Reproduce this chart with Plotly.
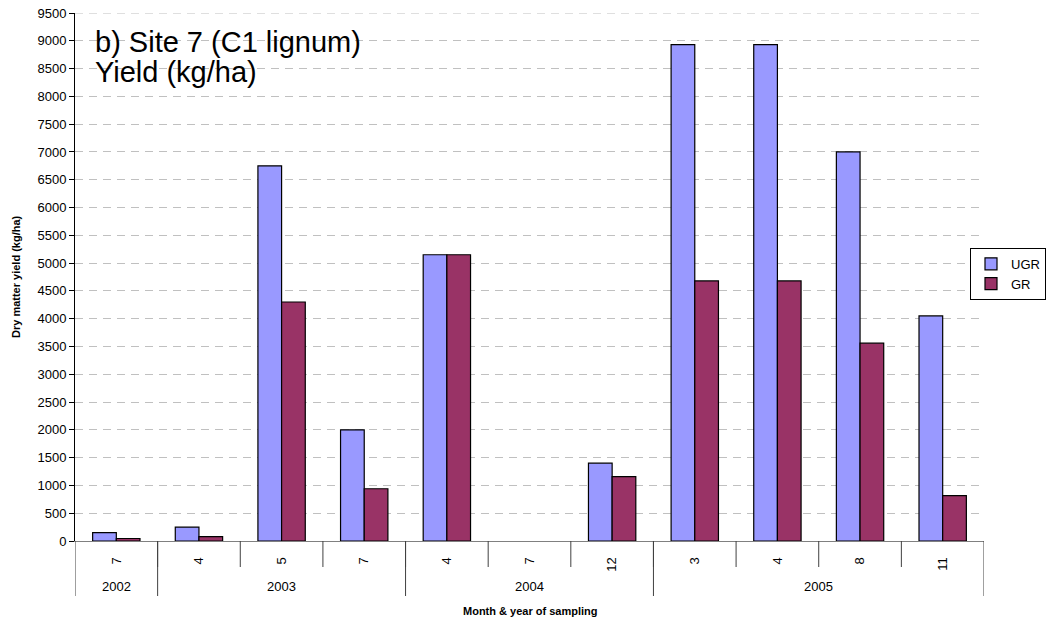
import plotly.graph_objects as go

years = ["2002", "2003", "2003", "2003", "2004", "2004", "2004", "2005", "2005", "2005", "2005"]
months = ["7", "4", "5", "7", "4", "7", "12", "3", "4", "8", "11"]
ugr = [150, 250, 6750, 2000, 5150, None, 1400, 8930, 8930, 7000, 4050]
gr = [45, 80, 4300, 940, 5150, None, 1160, 4680, 4680, 3560, 815]
y_ticks = list(range(0, 9501, 500))

FONT = "Liberation Sans, Arial, sans-serif"
pos = list(range(len(months)))
n = len(months)

fig = go.Figure()
fig.add_trace(go.Bar(x=pos, y=ugr, name="UGR",
                     marker=dict(color="#9999FF", line=dict(color="black", width=1.2))))
fig.add_trace(go.Bar(x=pos, y=gr, name="GR",
                     marker=dict(color="#993366", line=dict(color="black", width=1.2))))

W, H = 1047, 626
ML, MT, MR, MB = 75, 13, 63, 85
plot_h = H - MT - MB
plot_w = W - ML - MR

fig.update_layout(
    width=W, height=H,
    margin=dict(l=ML, r=MR, t=MT, b=MB, autoexpand=False),
    paper_bgcolor="white", plot_bgcolor="white",
    font=dict(family=FONT, size=13, color="black"),
    barmode="group", bargap=0.427, bargroupgap=0,
    showlegend=True,
    legend=dict(x=(W - 1 - ML) / plot_w, y=0.506, xanchor="right", yanchor="middle",
                bordercolor="black", borderwidth=1, font=dict(size=13),
                itemwidth=30, tracegroupgap=0, bgcolor="white"),
    xaxis=dict(range=[-0.5, n - 0.5], tickvals=pos, ticktext=months, tickangle=-90,
               ticks="outside", ticklen=10, tickcolor="rgba(0,0,0,0)",
               showgrid=False, zeroline=False, showline=True, linecolor="#808080",
               tickfont=dict(size=13), automargin=False),
    yaxis=dict(range=[0, 9500], tickvals=y_ticks, showgrid=True, gridcolor="#C0C0C0",
               griddash="8px,6px", ticks="outside", ticklen=5, tickcolor="black",
               showline=True, linecolor="black", zeroline=False, tickfont=dict(size=13),
               automargin=False, ticklabeloverflow="allow"),
)

# top gridline (plotly clips gridlines at the range ends)
fig.add_shape(type="line", xref="paper", yref="y", x0=0, x1=1, y0=y_ticks[-1], y1=y_ticks[-1],
              line=dict(color="#C0C0C0", width=1, dash="8px,6px"), layer="below")

# month ticks at every category boundary
for i in range(1, n):
    fig.add_shape(type="line", xref="x", yref="paper", x0=i - 0.5, x1=i - 0.5,
                  y0=0, y1=-26 / plot_h, line=dict(color="#404040", width=1))
# year dividers (computed from the year list)
bounds = [-0.5] + [i - 0.5 for i in range(1, n) if years[i] != years[i - 1]] + [n - 0.5]
for b in bounds:
    fig.add_shape(type="line", xref="x", yref="paper", x0=b, x1=b,
                  y0=0, y1=-55 / plot_h, line=dict(color="#404040", width=1))
# year labels centred under their months
for k in range(len(bounds) - 1):
    idx = [i for i in pos if bounds[k] < i < bounds[k + 1]]
    fig.add_annotation(xref="x", yref="paper", x=sum(idx) / len(idx), y=-45 / plot_h,
                       text=years[idx[0]], showarrow=False, yanchor="middle",
                       font=dict(size=13, family=FONT))

fig.add_annotation(xref="paper", yref="paper", x=0.5, y=-70 / plot_h,
                   text="<b>Month & year of sampling</b>", showarrow=False,
                   yanchor="middle", font=dict(size=11, family=FONT))
fig.add_annotation(xref="paper", yref="paper", x=-59 / plot_w, y=0.5,
                   text="<b>Dry matter yield (kg/ha)</b>", showarrow=False, textangle=-90,
                   xanchor="center", yanchor="middle", font=dict(size=11, family=FONT))

fig.add_annotation(xref="paper", yref="paper", x=18 / plot_w, y=(528 - 29) / plot_h, xanchor="left",
                   yanchor="middle", text="b) Site 7 (C1 lignum)", showarrow=False,
                   font=dict(size=29, family=FONT))
fig.add_annotation(xref="paper", yref="paper", x=18 / plot_w, y=(528 - 59) / plot_h, xanchor="left",
                   yanchor="middle", text="Yield (kg/ha)", showarrow=False,
                   font=dict(size=29, family=FONT))
fig.write_html("out.html", config={"displayModeBar": False},
               post_script="document.body.style.margin='0';")
